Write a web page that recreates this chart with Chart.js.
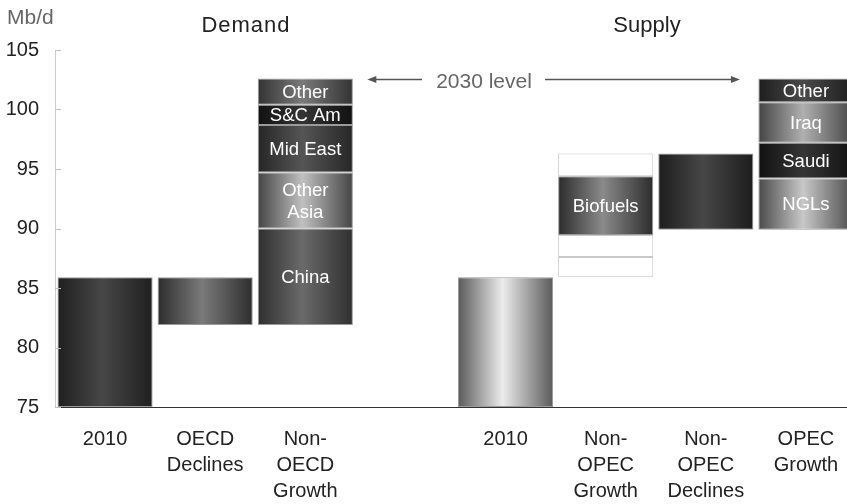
<!DOCTYPE html>
<html>
<head>
<meta charset="utf-8">
<script src="https://cdn.jsdelivr.net/npm/chart.js@4.4.0/dist/chart.umd.min.js"></script>
<style>
  html, body { margin: 0; padding: 0; background: #fff; overflow: hidden; }
  #wrap { width: 860px; height: 504px; position: relative; }
</style>
</head>
<body>
<div id="wrap"><canvas id="chart"></canvas></div>
<script>
// categories along the x axis (index 3 is the empty gap between demand and supply)
const categories = ['2010', ['OECD', 'Declines'], ['Non-', 'OECD', 'Growth'], '', '2010',
    ['Non-', 'OPEC', 'Growth'], ['Non-', 'OPEC', 'Declines'], ['OPEC', 'Growth']];

// one entry per floating block: which category, bottom and top in Mb/d, label
const segCategory = [0, 1, 2, 2, 2, 2, 2, 4, 5, 5, 5, 5, 6, 7, 7, 7, 7];
const segLow  = [75, 81.9, 81.9, 90, 94.7, 98.7, 100.4, 75, 85.9, 87.6, 89.45, 94.4, 89.9, 89.9, 94.2, 97.2, 100.6];
const segHigh = [85.9, 85.9, 90, 94.7, 98.7, 100.4, 102.6, 85.9, 87.6, 89.45, 94.4, 96.3, 96.3, 94.2, 97.2, 100.6, 102.6];
const segText = ['', '', 'China', ['Other', 'Asia'], 'Mid East', 'S&C Am', 'Other', '', '', '', 'Biofuels', '', '',
    'NGLs', 'Saudi', 'Iraq', 'Other'];

const yTicks = [75, 80, 85, 90, 95, 100, 105];
const level2030 = 102.6;

// shading of each block (edge colour, middle colour); null = plain white box
const segEdge = ['#1f1f1f', '#2e2e2e', '#2f2f2f', '#444444', '#262626', '#111111', '#333333', '#5a5a5a', null, null,
    '#2c2c2c', null, '#1d1d1d', '#4a4a4a', '#111111', '#444444', '#1d1d1d'];
const segMid = ['#474747', '#7a7a7a', '#6a6a6a', '#c0c0c0', '#555555', '#343434', '#7a7a7a', '#ececec', null, null,
    '#8a8a8a', null, '#474747', '#c8c8c8', '#363636', '#b0b0b0', '#4a4a4a'];

const FONT = '"Liberation Sans", Arial, sans-serif';

function shade(i) {
    return (ctx) => {
        const chart = ctx.chart;
        if (!segEdge[i]) return '#ffffff';
        const xs = chart.scales.x;
        if (!chart.chartArea || !xs) return segEdge[i];
        const cx = xs.getPixelForValue(segCategory[i]);
        const half = (xs.getPixelForValue(1) - xs.getPixelForValue(0)) * 0.95 / 2;
        const g = chart.ctx.createLinearGradient(cx - half, 0, cx + half, 0);
        g.addColorStop(0, segEdge[i]);
        g.addColorStop(0.47, segMid[i]);
        g.addColorStop(1, segEdge[i]);
        return g;
    };
}

const datasets = segCategory.map((cat, i) => {
    const data = categories.map(() => null);
    data[cat] = [segLow[i], segHigh[i]];
    return {
        data: data,
        backgroundColor: shade(i),
        borderColor: segEdge[i] ? '#9a9a9a' : '#c8c8c8',
        borderWidth: 1,
        borderSkipped: false,
        barPercentage: 0.95,
        categoryPercentage: 1.0
    };
});

// white labels inside the blocks, inward y ticks, titles and the 2030 arrows
const extras = {
    id: 'extras',
    afterDatasetsDraw(chart) {
        const c = chart.ctx;
        c.save();
        c.fillStyle = '#ffffff';
        c.font = '18.5px ' + FONT;
        c.textAlign = 'center';
        c.textBaseline = 'middle';
        segText.forEach((t, i) => {
            if (!t) return;
            const el = chart.getDatasetMeta(i).data[segCategory[i]];
            const cy = (el.y + el.base) / 2 + 1;
            const lines = Array.isArray(t) ? t : [t];
            lines.forEach((ln, k) => {
                c.fillText(ln, el.x, cy + (k - (lines.length - 1) / 2) * 22);
            });
        });
        c.restore();
    },
    afterDraw(chart) {
        const c = chart.ctx;
        const ys = chart.scales.y;
        const xs = chart.scales.x;
        const left = chart.chartArea.left;
        c.save();
        c.strokeStyle = '#bdbdbd';
        c.lineWidth = 1;
        yTicks.forEach(v => {
            const py = Math.round(ys.getPixelForValue(v)) + 0.5;
            c.beginPath();
            c.moveTo(left, py);
            c.lineTo(left + 6, py);
            c.stroke();
        });

        c.textBaseline = 'alphabetic';
        c.fillStyle = '#666666';
        c.font = '21px ' + FONT;
        c.textAlign = 'left';
        c.fillText('Mb/d', 7, 24);

        c.fillStyle = '#222222';
        c.font = '22px ' + FONT;
        c.textAlign = 'center';
        c.letterSpacing = '1px';
        c.fillText('Demand', 246, 32);
        c.letterSpacing = '0px';
        c.fillText('Supply', 647, 32);

        // 2030 level annotation
        const ay = Math.round(ys.getPixelForValue(level2030)) + 0.5;
        const x2 = xs.getPixelForValue(2) + 62;
        const x7 = xs.getPixelForValue(7) - 66;
        c.fillStyle = '#666666';
        c.font = '21px ' + FONT;
        c.fillText('2030 level', 484, ay + 8);
        c.strokeStyle = '#555555';
        c.fillStyle = '#555555';
        c.lineWidth = 1.5;
        c.beginPath();
        c.moveTo(x2 + 4, ay); c.lineTo(422, ay);
        c.moveTo(545, ay); c.lineTo(x7 - 4, ay);
        c.stroke();
        c.beginPath();
        c.moveTo(x2, ay); c.lineTo(x2 + 9, ay - 3.5); c.lineTo(x2 + 9, ay + 3.5); c.closePath();
        c.fill();
        c.beginPath();
        c.moveTo(x7, ay); c.lineTo(x7 - 9, ay - 3.5); c.lineTo(x7 - 9, ay + 3.5); c.closePath();
        c.fill();
        c.restore();
    }
};

new Chart(document.getElementById('chart'), {
    type: 'bar',
    data: { labels: categories, datasets: datasets },
    options: {
        responsive: true,
        maintainAspectRatio: false,
        devicePixelRatio: 1,
        animation: false,
        layout: { padding: { top: 50, right: 4, left: 0, bottom: 0 } },
        plugins: { legend: { display: false }, tooltip: { enabled: false } },
        scales: {
            x: {
                stacked: true,
                grid: { display: false },
                border: { display: true, color: '#333333', width: 1 },
                ticks: {
                    color: '#222222',
                    font: { family: FONT, size: 20, lineHeight: 1.3 },
                    padding: 11,
                    maxRotation: 0,
                    autoSkip: false
                },
                afterFit(scale) { scale.height = 97; }
            },
            y: {
                min: 75,
                max: 105,
                grid: { display: false },
                border: { display: true, color: '#cccccc', width: 1 },
                ticks: {
                    stepSize: 5,
                    color: '#222222',
                    font: { family: FONT, size: 20 },
                    padding: 8
                },
                afterFit(scale) { scale.width = 55; }
            }
        }
    },
    plugins: [extras]
});
</script>
</body>
</html>
